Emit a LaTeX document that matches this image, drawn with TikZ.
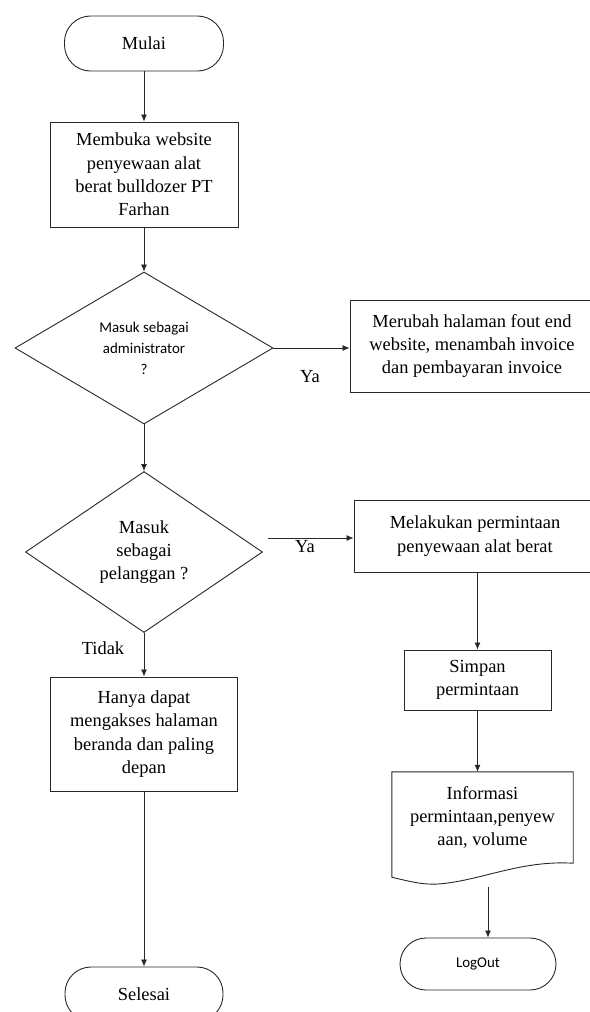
\documentclass[tikz,border=0pt]{standalone}
\usepackage{fontspec}
\usepackage{tikz}
\setmainfont{Liberation Serif}
\newfontfamily\labelsans{Carlito}
\usetikzlibrary{arrows.meta, shapes.geometric}
\definecolor{garis}{RGB}{40,40,40}

\tikzset{
  proses/.style={draw=garis, line width=0.9bp, align=center, inner sep=0pt},
  terminal/.style={draw=garis, line width=0.9bp, rounded corners=26bp, align=center, inner sep=0pt},
  keputusan/.style={draw=garis, diamond, line width=0.9bp, align=center, inner sep=0pt, shape aspect=1.6},
  alur/.style={->, draw=garis, line width=0.8bp}
}

\begin{document}
\begin{tikzpicture}[x=1bp, y=-1bp, >={Latex[length=7bp,width=6bp]},
  font=\fontsize{18.5}{23.5}\selectfont]

\clip (0,0) rectangle (590,1012);

\node[terminal, minimum width=159bp, minimum height=55bp] (mulai) at (144,43.5) {Mulai};
\node[proses, minimum width=188bp, minimum height=105bp] (buka) at (144,174.5)
  {Membuka website\\penyewaan alat\\berat bulldozer PT\\Farhan};
\node[keputusan, minimum width=258bp, minimum height=152bp,
  font=\labelsans\fontsize{15}{21}\selectfont] (admin) at (144,348)
  {Masuk sebagai\\administrator\\?};
\node[proses, minimum width=244bp, minimum height=92bp] (ubah) at (472,346)
  {Merubah halaman fout end\\website, menambah invoice\\dan pembayaran invoice};
\node (ya1) at (310,377) {Ya};

\node[keputusan, minimum width=237bp, minimum height=161bp] (pelanggan) at (144,552)
  {Masuk\\sebagai\\pelanggan ?};
\node[proses, minimum width=242bp, minimum height=72bp] (minta) at (475,536)
  {Melakukan permintaan\\penyewaan alat berat};
\coordinate (yastart) at (268,538);
\node (ya2) at (305,547) {Ya};
\node (tidak) at (103,648) {Tidak};

\node[proses, minimum width=187bp, minimum height=114bp] (beranda) at (144,734)
  {Hanya dapat\\mengakses halaman\\beranda dan paling\\depan};
\node[terminal, minimum width=158bp, minimum height=54bp] (selesai) at (144,994) {Selesai};

\node[proses, minimum width=147bp, minimum height=60bp] (simpan) at (477.5,680)
  {Simpan\\permintaan};
\node[align=center, minimum width=181bp, minimum height=91bp, inner sep=0pt] (info) at (482.5,817.5)
  {Informasi\\permintaan,penyew\\aan, volume};
\draw[draw=garis, line width=0.9bp] (info.south east) -- (info.north east) -- (info.north west)
  -- ([yshift=-14bp]info.south west) .. controls (408,881) and (422,885) .. (438,884)
  .. controls (480,881) and (520,860) .. (info.south east) -- cycle;
\coordinate (infoout) at (488,887);
\node[terminal, minimum width=156bp, minimum height=52bp,
  font=\labelsans\fontsize{15}{20}\selectfont] (logout) at (478,964) {LogOut};

\draw[alur] (mulai) -- (buka);
\draw[alur] (buka) -- (admin);
\draw[alur] (admin.east) -- (admin.east -| ubah.west);
\draw[alur] (admin) -- (pelanggan);
\draw[alur] (yastart) -- (yastart -| minta.west);
\draw[alur] (pelanggan) -- (beranda);
\draw[alur] (beranda) -- (selesai);
\draw[alur] (simpan |- minta.south) -- (simpan);
\draw[alur] (simpan) -- (simpan |- info.north);
\draw[alur] (infoout) -- (infoout |- logout.north);

\end{tikzpicture}
\end{document}
